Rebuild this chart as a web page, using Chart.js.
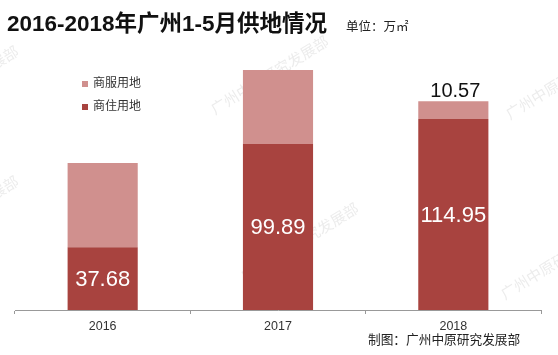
<!DOCTYPE html>
<html><head><meta charset="utf-8">
<script src="https://cdn.jsdelivr.net/npm/chart.js@4/dist/chart.umd.min.js"></script>
<style>html,body{margin:0;padding:0;background:#fff}#wrap{width:558px;height:355px;position:relative}</style>
</head><body><div id="wrap"><canvas id="c"></canvas></div>
<script>
const categories = ['2016', '2017', '2018'];
const residential = [37.68, 99.89, 114.95];   // 商住用地
const commercial = [50.8, 44.4, 10.57];        // 商服用地
const commercialLabelShown = [false, false, true];
const seriesNames = ['商住用地', '商服用地'];
const titleText = '2016-2018年广州1-5月供地情况';
const unitText = '单位：万㎡';
const sourceText = '制图：广州中原研究发展部';
const watermarkText = '广州中原研究发展部';

const DARK = '#A8433F', LIGHT = '#D0908E';
const NUM_FONT = "'Liberation Sans', Arial, sans-serif";
const CJK_FONT = "'Liberation Sans', 'Noto Sans CJK SC', sans-serif";

const overlay = {
  id: 'overlay',
  beforeDatasetsDraw(chart) {
    const ctx = chart.ctx;
    ctx.save();
    ctx.fillStyle = 'rgba(170,170,170,0.22)';
    ctx.font = "15px 'Noto Sans CJK SC', sans-serif";
    const marks = [[-95, 125], [-95, 255], [215, 115], [245, 282], [510, 120], [505, 300]];
    marks.forEach(([x, y]) => {
      ctx.save(); ctx.translate(x, y); ctx.rotate(-0.55);
      ctx.fillText(watermarkText, 0, 0); ctx.restore();
    });
    ctx.restore();
  },
  afterDatasetsDraw(chart) {
    const ctx = chart.ctx;
    ctx.save();
    ctx.fillStyle = '#111';
    ctx.textBaseline = 'alphabetic';
    ctx.textAlign = 'left';
    ctx.font = "bold 22.5px " + CJK_FONT;
    ctx.fillText(titleText, 7, 31);
    ctx.font = "12.5px " + CJK_FONT;
    ctx.fillStyle = '#222';
    ctx.fillText(unitText, 346, 31);
    const legend = [[1, 84], [0, 107]];
    ctx.font = "12px " + CJK_FONT;
    ctx.textBaseline = 'middle';
    legend.forEach(([di, y]) => {
      const ds = chart.data.datasets[di];
      ctx.fillStyle = ds.backgroundColor;
      ctx.fillRect(82, y - 3, 6, 6);
      ctx.fillStyle = '#333';
      ctx.fillText(ds.label, 93, y);
    });
    const m0 = chart.getDatasetMeta(0), m1 = chart.getDatasetMeta(1);
    ctx.textAlign = 'center';
    ctx.font = "22px " + NUM_FONT;
    ctx.fillStyle = '#fff';
    m0.data.forEach((el, i) => {
      ctx.fillText(residential[i].toFixed(2), el.x, (el.y + el.base) / 2 + 1);
    });
    ctx.font = "20px " + NUM_FONT;
    ctx.fillStyle = '#111';
    ctx.textBaseline = 'alphabetic';
    m1.data.forEach((el, i) => {
      if (commercialLabelShown[i]) ctx.fillText(commercial[i].toFixed(2), el.x + 2, el.y - 4);
    });
    ctx.textAlign = 'left';
    ctx.textBaseline = 'middle';
    ctx.font = "12.7px " + CJK_FONT;
    ctx.fillStyle = '#222';
    ctx.fillText(sourceText, 368, 340);
    ctx.restore();
  }
};

new Chart(document.getElementById('c'), {
  type: 'bar',
  data: {
    labels: categories,
    datasets: [
      { label: seriesNames[0], data: residential, backgroundColor: DARK },
      { label: seriesNames[1], data: commercial, backgroundColor: LIGHT }
    ]
  },
  options: {
    responsive: true, maintainAspectRatio: false, animation: false,
    layout: { padding: { left: 15, right: 17, top: 44, bottom: 16 } },
    plugins: { legend: { display: false }, tooltip: { enabled: false }, title: { display: false } },
    scales: {
      x: {
        stacked: true, offset: true,
        grid: { display: true, drawOnChartArea: false, drawTicks: true, tickLength: 4, color: '#999', offset: true },
        border: { color: '#999' },
        ticks: { color: '#333', font: { size: 12.5, family: NUM_FONT }, padding: 5 }
      },
      y: { stacked: true, display: false, min: 0, max: 160 }
    },
    datasets: { bar: { barPercentage: 0.40, categoryPercentage: 1 } }
  },
  plugins: [overlay]
});
</script></body></html>
